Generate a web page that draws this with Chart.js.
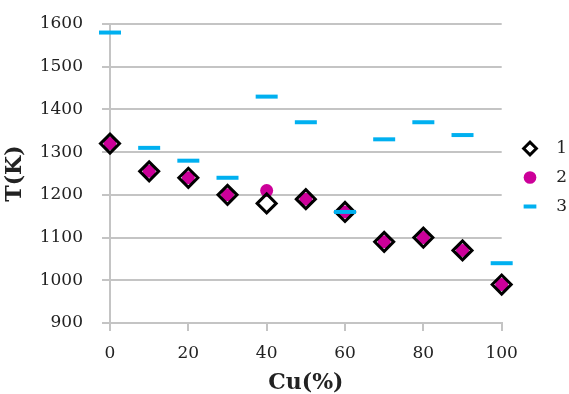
<!DOCTYPE html>
<html>
<head>
<meta charset="utf-8">
<script src="https://cdn.jsdelivr.net/npm/chart.js@4.4.1/dist/chart.umd.min.js"></script>
<style>
html,body{margin:0;padding:0;background:#fff;}
#wrap{width:569px;height:394px;}
</style>
</head>
<body>
<div id="wrap"><canvas id="c" width="569" height="394"></canvas></div>
<script>
// ---- data ----
const cuPercent = [0, 10, 20, 30, 40, 50, 60, 70, 80, 90, 100];
const series1 = [1320, 1255, 1240, 1200, 1180, 1190, 1160, 1090, 1100, 1070, 990];
const series2 = [1320, 1255, 1240, 1200, 1210, 1190, 1160, 1090, 1100, 1070, 990];
const series3 = [1580, 1310, 1280, 1240, 1430, 1370, 1160, 1330, 1370, 1340, 1040];
const seriesNames = ['1', '2', '3'];
const xTickValues = [0, 20, 40, 60, 80, 100];
const yTickValues = [900, 1000, 1100, 1200, 1300, 1400, 1500, 1600];
const xTitle = 'Cu(%)';
const yTitle = 'T(K)';

const toPoints = (xs, ys) => xs.map((x, i) => ({ x: x, y: ys[i] }));

const FONT = "'DejaVu Serif', 'Liberation Serif', serif";
const GRID = '#c4c4c4';
const TEXT = '#222222';

const LEG_PAD = 12, LEG_BOX = 9;
const legendPlace = {
  id: 'legendPlace',
  afterLayout(chart) {
    const l = chart.legend;
    if (!l) return;
    const dy = 4;
    l.left = 530 - LEG_PAD - LEG_BOX / 2;
    l.right = 567;
    l.top += dy;
    l.bottom += dy;
  }
};

new Chart(document.getElementById('c'), {
  type: 'scatter',
  data: {
    datasets: [
      {
        label: seriesNames[0],
        data: toPoints(cuPercent, series1),
        pointStyle: 'rectRot',
        pointRadius: 9.5,
        pointBorderWidth: 3,
        pointBorderColor: '#000000',
        pointBackgroundColor: 'rgba(255,255,255,0)',
        borderColor: '#000000',
        backgroundColor: 'rgba(255,255,255,0)',
        clip: false,
        order: 1
      },
      {
        label: seriesNames[1],
        data: toPoints(cuPercent, series2),
        pointStyle: 'circle',
        pointRadius: 6.5,
        pointBorderWidth: 0,
        pointBackgroundColor: '#cc0099',
        backgroundColor: '#cc0099',
        borderColor: '#cc0099',
        borderWidth: 0,
        clip: false,
        order: 2
      },
      {
        label: seriesNames[2],
        data: toPoints(cuPercent, series3),
        pointStyle: 'line',
        pointRadius: 11,
        pointBorderWidth: 4,
        pointBorderColor: '#00b0f0',
        borderColor: '#00b0f0',
        backgroundColor: '#00b0f0',
        borderWidth: 4,
        clip: false,
        order: 0
      }
    ]
  },
  options: {
    responsive: false,
    animation: false,
    events: [],
    layout: { padding: { left: 0, right: 17, top: 24, bottom: 0 } },
    plugins: {
      tooltip: { enabled: false },
      legend: {
        position: 'right',
        fullSize: false,
        labels: {
          usePointStyle: true,
          boxWidth: LEG_BOX,
          boxHeight: LEG_BOX,
          padding: LEG_PAD,
          textAlign: 'right',
          color: TEXT,
          font: { family: FONT, size: 17 },
          sort: (a, b) => a.datasetIndex - b.datasetIndex
        }
      }
    },
    scales: {
      x: {
        type: 'linear',
        min: 0,
        max: 100,
        afterBuildTicks: (s) => { s.ticks = xTickValues.map(v => ({ value: v })); },
        afterFit: (s) => { s.height = 394 - 323; },
        grid: {
          drawOnChartArea: false,
          drawTicks: true,
          tickLength: 8,
          color: GRID,
          lineWidth: 2
        },
        border: { display: true, color: GRID, width: 2 },
        ticks: {
          color: TEXT,
          padding: 12,
          maxRotation: 0,
          font: { family: FONT, size: 17 },
          callback: (v) => String(v)
        },
        title: {
          display: true,
          text: xTitle,
          color: TEXT,
          padding: { top: 0, bottom: 0 },
          font: { family: FONT, size: 22, weight: 'bold', lineHeight: 1 }
        }
      },
      y: {
        type: 'linear',
        min: 900,
        max: 1600,
        afterBuildTicks: (s) => { s.ticks = yTickValues.map(v => ({ value: v })); },
        afterFit: (s) => { s.width = 110; s.paddingTop = 10; s.paddingBottom = 10; },
        grid: {
          drawOnChartArea: true,
          drawTicks: true,
          tickLength: 8,
          color: GRID,
          lineWidth: 2
        },
        border: { display: true, color: GRID, width: 2 },
        ticks: {
          color: TEXT,
          padding: 19,
          font: { family: FONT, size: 17 },
          callback: (v) => String(v)
        },
        title: {
          display: true,
          text: yTitle,
          color: TEXT,
          padding: { top: 2, bottom: 0 },
          font: { family: FONT, size: 22, weight: 'bold', lineHeight: 1.2 }
        }
      }
    }
  },
  plugins: [legendPlace]
});
</script>
</body>
</html>
